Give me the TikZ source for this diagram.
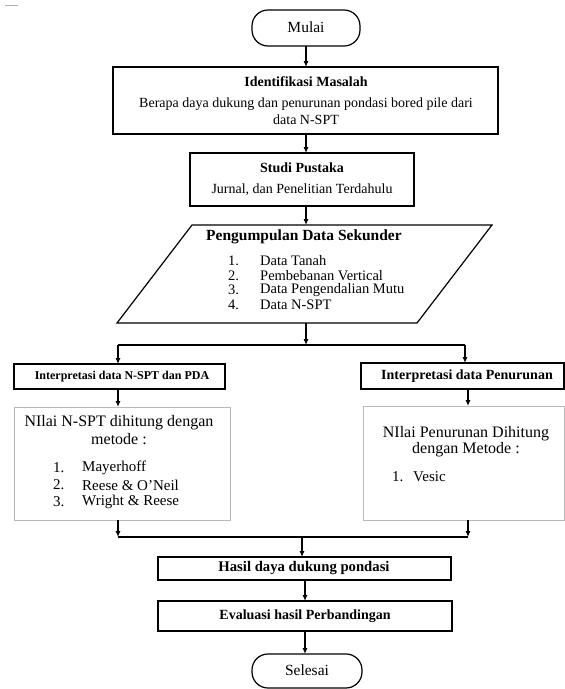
\documentclass[tikz,border=0pt]{standalone}
\usepackage{fontspec}
\setmainfont{Liberation Serif}
\usetikzlibrary{arrows.meta}
\tikzset{
  bx/.style={draw, line width=1.2pt, inner sep=0pt, outer sep=0pt},
  gbx/.style={draw=gray!55, line width=0.8pt, inner sep=0pt, outer sep=0pt},
  term/.style={draw, line width=1.2pt, rounded corners=16pt, inner sep=0pt, outer sep=0pt},
  arr/.style={-{Latex[length=6pt,width=5pt]}, line width=1.1pt},
  ln/.style={line width=1.1pt},
  txt/.style={inner sep=0pt, font=\fontsize{14}{16}\selectfont},
  ltxt/.style={inner sep=0pt, font=\fontsize{15}{17}\selectfont},
  ptxt/.style={inner sep=0pt, font=\fontsize{14.5}{16}\selectfont},
  ttxt/.style={inner sep=0pt, font=\fontsize{15.5}{17}\selectfont},
  btxt/.style={inner sep=0pt, font=\fontsize{14}{16}\selectfont\bfseries},
  ctxt/.style={inner sep=0pt, font=\fontsize{16}{18}\selectfont},
}
\begin{document}
\begin{tikzpicture}[x=1pt,y=-1pt]
\useasboundingbox (0,0) rectangle (565,689);
\fill[white] (0,0) rectangle (565,689);
\draw[gray!60, line width=0.8pt] (5,5.5) -- (18,5.5);

% boxes
\node[term, minimum width=108pt, minimum height=36pt] (mulai) at (306,28) {};
\node[bx, minimum width=385pt, minimum height=67pt] (idm) at (305.5,100.5) {};
\node[bx, minimum width=224pt, minimum height=53pt] (studi) at (302,179.5) {};
\node[inner sep=0pt, outer sep=0pt, minimum width=300pt, minimum height=98pt] (pg) at (304.5,274) {};
\draw[line width=1.2pt] (192,225) -- (492,225) -- (417,323) -- (117,323) -- cycle;
\node[bx, minimum width=211pt, minimum height=25pt] (lh) at (119.5,376.5) {};
\node[bx, minimum width=203pt, minimum height=26pt] (rh) at (462.5,376) {};
\node[gbx, minimum width=216pt, minimum height=113pt] (lc) at (122,463.5) {};
\node[gbx, minimum width=201pt, minimum height=114pt] (rc) at (463.5,463) {};
\node[bx, minimum width=293pt, minimum height=23pt] (hasil) at (304.5,568.5) {};
\node[bx, minimum width=294pt, minimum height=30pt] (eval) at (305,616) {};
\node[term, minimum width=110pt, minimum height=34pt] (selesai) at (307,671) {};

% texts
\node[ttxt] at (306,27.5) {Mulai};
\node[btxt] at (306,82) {Identifikasi Masalah};
\node[txt] at (306,104) {Berapa daya dukung dan penurunan pondasi bored pile dari};
\node[txt] at (306,120) {data N-SPT};
\node[btxt] at (302,168) {Studi Pustaka};
\node[txt] at (302,190) {Jurnal, dan Penelitian Terdahulu};
\node[inner sep=0pt, font=\fontsize{15.5}{17}\selectfont\bfseries] at (304,237) {Pengumpulan Data Sekunder};
\node[ptxt, anchor=west] at (228,261) {1.};
\node[ptxt, anchor=west] at (260,261) {Data Tanah};
\node[ptxt, anchor=west] at (228,275.5) {2.};
\node[ptxt, anchor=west] at (260,275.5) {Pembebanan Vertical};
\node[ptxt, anchor=west] at (228,290) {3.};
\node[ptxt, anchor=west] at (260,290) {Data Pengendalian Mutu};
\node[ptxt, anchor=west] at (228,304.5) {4.};
\node[ptxt, anchor=west] at (260,304.5) {Data N-SPT};
\node[inner sep=0pt, font=\fontsize{12}{14}\selectfont\bfseries] at (122,376.5) {Interpretasi data N-SPT dan PDA};
\node[inner sep=0pt, font=\fontsize{14}{16}\selectfont\bfseries] at (467,376.5) {Interpretasi data Penurunan};
\node[ctxt] at (119,423) {NIlai N-SPT dihitung dengan};
\node[ctxt] at (119,439) {metode :};
\node[ltxt, anchor=west] at (53,468) {1.};
\node[ltxt, anchor=west] at (82,468) {Mayerhoff};
\node[ltxt, anchor=west] at (53,485) {2.};
\node[ltxt, anchor=west] at (82,485) {Reese \& O’Neil};
\node[ltxt, anchor=west] at (53,502) {3.};
\node[ltxt, anchor=west] at (82,502) {Wright \& Reese};
\node[ctxt] at (466,434) {NIlai Penurunan Dihitung};
\node[ctxt] at (466,450) {dengan Metode :};
\node[ltxt, anchor=west] at (392,477) {1.};
\node[ltxt, anchor=west] at (413,477) {Vesic};
\node[inner sep=0pt, font=\fontsize{14.7}{16}\selectfont\bfseries] at (304,568.5) {Hasil daya dukung pondasi};
\node[btxt] at (305,616) {Evaluasi hasil Perbandingan};
\node[ttxt] at (307,670.5) {Selesai};

% connectors
\coordinate (cx) at (306,0);
\coordinate (cy) at (305,0);
\coordinate (s1) at (306,345);
\coordinate (s1l) at (118,345);
\coordinate (s1r) at (465,345);
\coordinate (m1) at (302,537);
\coordinate (m1l) at (118,537);
\coordinate (m1r) at (468,537);
\draw[arr] (mulai.south) -- (mulai.south |- idm.north);
\draw[arr] (cx |- idm.south) -- (cx |- studi.north);
\draw[arr] (cx |- studi.south) -- (cx |- pg.north);
\draw[arr] (cx |- pg.south) -- (s1);
\draw[ln] (s1l) -- (s1r);
\draw[arr] (s1l) -- (s1l |- lh.north);
\draw[arr] (s1r) -- (s1r |- rh.north);
\draw[arr] (s1l |- lh.south) -- (s1l |- lc.north);
\draw[arr] (m1r |- rh.south) -- (m1r |- rc.north);
\draw[arr] (m1l |- lc.south) -- (m1l);
\draw[arr] (m1r |- rc.south) -- (m1r);
\draw[ln] (m1l) -- (m1r);
\draw[arr] (m1) -- (m1 |- hasil.north);
\draw[arr] (cy |- hasil.south) -- (cy |- eval.north);
\draw[arr] (cy |- eval.south) -- (cy |- selesai.north);
\end{tikzpicture}
\end{document}
